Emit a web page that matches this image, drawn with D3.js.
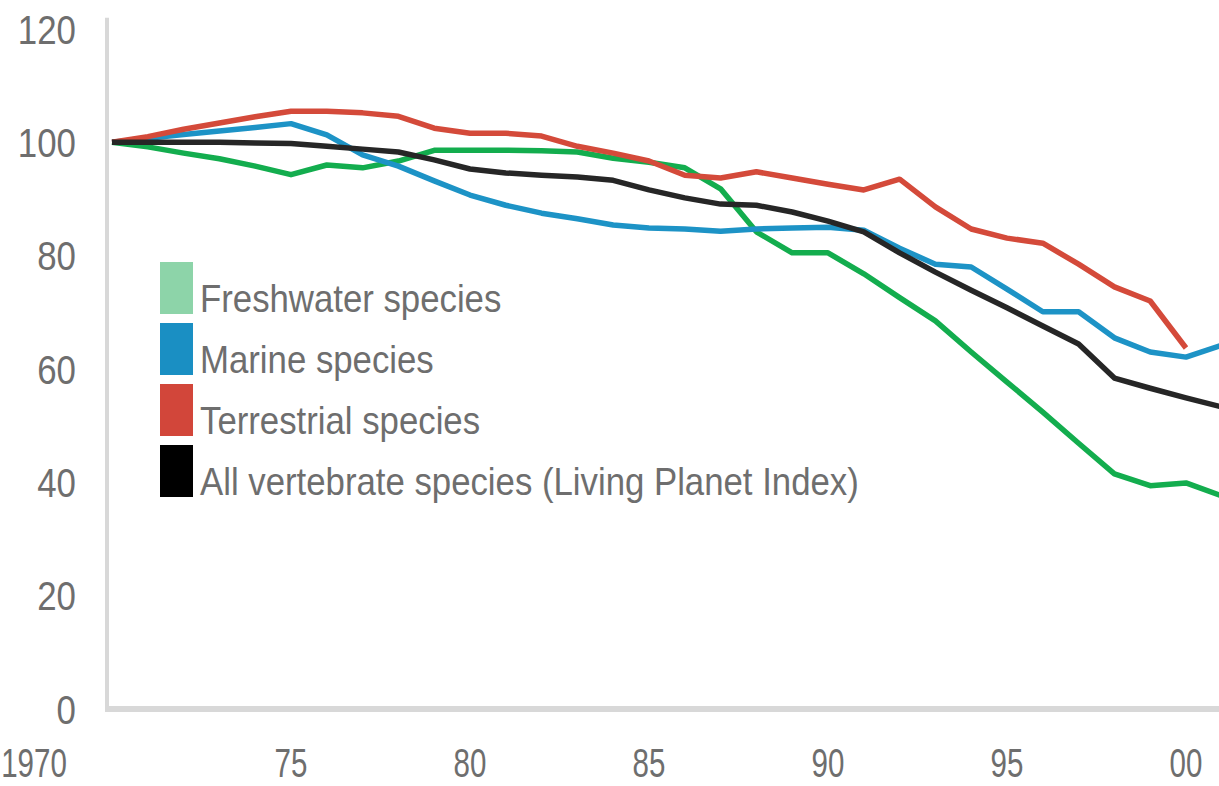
<!DOCTYPE html>
<html>
<head>
<meta charset="utf-8">
<script src="https://cdn.jsdelivr.net/npm/d3@7"></script>
<style>
  html, body { margin: 0; padding: 0; background: #fff; }
  svg { display: block; }
  text { font-family: "Liberation Sans", Arial, sans-serif; fill: #6e6e6e; }
</style>
</head>
<body>
<svg id="chart" width="1219" height="786"></svg>
<script>
// years shown on the chart, one value per year for each series
const years = d3.range(1970, 2002);

const freshwater = [100, 99.2, 98.1, 97.1, 95.8, 94.3, 96.0, 95.5, 96.7, 98.6,
  98.6, 98.6, 98.5, 98.3, 97.2, 96.5, 95.5, 91.8, 84.2, 80.5,
  80.5, 76.8, 72.6, 68.5, 63.0, 57.7, 52.4, 46.9, 41.5, 39.4,
  39.9, 37.6];

const marine = [100, 100.7, 101.4, 102.0, 102.6, 103.3, 101.3, 97.8, 95.8, 93.2,
  90.7, 88.9, 87.5, 86.5, 85.4, 84.9, 84.7, 84.3, 84.7, 84.9,
  85.0, 84.5, 81.3, 78.5, 78.0, 74.1, 70.1, 70.1, 65.5, 63.0,
  62.1, 64.2];

const terrestrial = [100, 101.0, 102.3, 103.4, 104.5, 105.5, 105.5, 105.2, 104.6, 102.5,
  101.6, 101.6, 101.1, 99.3, 98.1, 96.7, 94.2, 93.7, 94.8, 93.7,
  92.6, 91.6, 93.5, 88.6, 84.7, 83.1, 82.2, 78.5, 74.5, 72.0,
  63.7, null];

const allSpecies = [100, 100, 100, 100, 99.9, 99.8, 99.3, 98.8, 98.3, 96.9,
  95.3, 94.6, 94.2, 93.9, 93.3, 91.6, 90.2, 89.1, 88.9, 87.7,
  86.1, 84.2, 80.5, 77.1, 73.9, 70.8, 67.6, 64.4, 58.4, 56.6,
  54.9, 53.3];

const seriesNames = ["Freshwater species", "Marine species", "Terrestrial species",
  "All vertebrate species (Living Planet Index)"];
const lineColours = ["#13ad4e", "#1d93c6", "#d44a3a", "#262626"];
const swatchColours = ["#8dd4a9", "#1a8fc3", "#d2463a", "#000000"];

const yTicks = [0, 20, 40, 60, 80, 100, 120];
const xTicks = [1970, 1975, 1980, 1985, 1990, 1995, 2000];
const xTickLabels = ["1970", "75", "80", "85", "90", "95", "00"];

const svg = d3.select("#chart");
const width = 1219;

const x = d3.scaleLinear().domain([1970, 2000]).range([112, 1186]);
const y = d3.scaleLinear().domain([0, 120]).range([709, 29]);

// the original type is a narrow grotesque, so squeeze the glyphs
const ySquash = 0.85;
const xSquash = 0.72;
const legendSquash = 0.915;

// axis lines
svg.append("line")
  .attr("x1", 107).attr("x2", 107)
  .attr("y1", y(122)).attr("y2", y(0) + 3)
  .attr("stroke", "#d8d8d8").attr("stroke-width", 4);

svg.append("line")
  .attr("x1", 105).attr("x2", width)
  .attr("y1", y(0)).attr("y2", y(0))
  .attr("stroke", "#d8d8d8").attr("stroke-width", 6);

// y labels
svg.append("g")
  .selectAll("text")
  .data(yTicks)
  .join("text")
  .attr("transform", d => `translate(76,${y(d)}) scale(${ySquash},1)`)
  .attr("dy", "0.36em")
  .attr("text-anchor", "end")
  .attr("font-size", 41)
  .text(d => d);

// x labels, the first one sits left of the axis
svg.append("g")
  .selectAll("text")
  .data(xTicks)
  .join("text")
  .attr("transform", (d, i) => `translate(${i === 0 ? x(d) - 78 : x(d)},777) scale(${xSquash},1)`)
  .attr("text-anchor", "middle")
  .attr("font-size", 41)
  .text((d, i) => xTickLabels[i]);

// lines
const allSeries = [freshwater, marine, terrestrial, allSpecies];
const lineGen = d3.line()
  .defined(d => d[1] !== null)
  .x(d => x(d[0]))
  .y(d => y(d[1]));

svg.append("g")
  .selectAll("path")
  .data([0, 1, 2, 3])
  .join("path")
  .attr("fill", "none")
  .attr("stroke", i => lineColours[i])
  .attr("stroke-width", 5.5)
  .attr("stroke-linejoin", "round")
  .attr("d", i => lineGen(years.map((yr, j) => [yr, allSeries[i][j]])));

// legend
const legend = svg.append("g").attr("transform", "translate(160,262)");
const rowStep = 61;

legend.selectAll("rect")
  .data(seriesNames)
  .join("rect")
  .attr("x", 0)
  .attr("y", (d, i) => i * rowStep)
  .attr("width", 33)
  .attr("height", 52)
  .attr("fill", (d, i) => swatchColours[i]);

legend.selectAll("text")
  .data(seriesNames)
  .join("text")
  .attr("transform", (d, i) => `translate(40,${i * rowStep + 50}) scale(${legendSquash},1)`)
  .attr("font-size", 38)
  .text(d => d);
</script>
</body>
</html>
